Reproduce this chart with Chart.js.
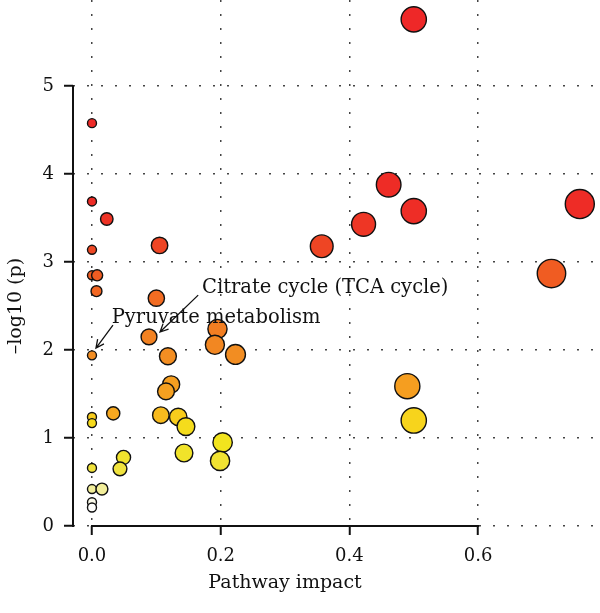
<!DOCTYPE html>
<html>
<head>
<meta charset="utf-8">
<script src="https://cdn.jsdelivr.net/npm/chart.js@4.4.1/dist/chart.umd.min.js"></script>
<style>
  body { margin: 0; background: #fff; }
</style>
</head>
<body>
<canvas id="chart" width="600" height="613"></canvas>
<script>
// pathway impact (x) and -log10(p) (y)
const impact = [0, 0, 0.023, 0.105, 0, 0, 0.008, 0.007, 0.1, 0.5, 0.461, 0.5, 0.422, 0.357,
  0.758, 0.714, 0, 0.0886, 0.195, 0.191, 0.223, 0.118, 0.123, 0.115, 0, 0, 0.033, 0.107,
  0.134, 0.146, 0.143, 0.203, 0.199, 0.049, 0.0435, 0, 0, 0.0155, 0, 0, 0.49, 0.5];
const logP = [4.58, 3.69, 3.49, 3.19, 3.14, 2.85, 2.85, 2.67, 2.59, 5.76, 3.88, 3.58, 3.43, 3.18,
  3.66, 2.87, 1.94, 2.15, 2.24, 2.06, 1.95, 1.93, 1.61, 1.53, 1.24, 1.17, 1.28, 1.26,
  1.24, 1.13, 0.83, 0.95, 0.74, 0.78, 0.65, 0.66, 0.42, 0.42, 0.27, 0.21, 1.59, 1.20];

const xTicks = [0, 0.2, 0.4, 0.6];
const yTicks = [0, 1, 2, 3, 4, 5];

// annotations: text, where the text starts, and the arrow
const noteText = ['Citrate cycle (TCA cycle)', 'Pyruvate metabolism'];
const noteAt = [[0.171, 2.65], [0.0306, 2.31]];
const arrowFrom = [[0.165, 2.625], [0.0326, 2.284]];
const arrowTo = [[0.1057, 2.205], [0.0062, 2.023]];

const SERIF = '"DejaVu Serif", "Liberation Serif", serif';

// heat-like colour ramp keyed on -log10(p)
const ramp = [
  [0.2, [255, 255, 255]], [0.3, [248, 246, 224]], [0.42, [242, 238, 154]], [0.66, [240, 226, 58]],
  [0.95, [242, 228, 30]], [1.17, [246, 218, 28]], [1.24, [248, 204, 28]], [1.28, [246, 168, 32]],
  [1.6, [245, 158, 32]], [2.0, [242, 138, 34]], [2.6, [242, 107, 34]], [2.9, [240, 90, 34]],
  [3.2, [238, 68, 36]], [3.6, [238, 44, 38]], [6, [238, 40, 40]]
];
function heat(v) {
  if (v <= ramp[0][0]) return 'rgb(' + ramp[0][1].join(',') + ')';
  for (let i = 1; i < ramp.length; i++) {
    if (v <= ramp[i][0]) {
      const [a, ca] = ramp[i - 1], [b, cb] = ramp[i];
      const t = (v - a) / (b - a);
      return 'rgb(' + ca.map((c, k) => Math.round(c + (cb[k] - c) * t)).join(',') + ')';
    }
  }
  return 'rgb(' + ramp[ramp.length - 1][1].join(',') + ')';
}

function arrow(ctx, x1, y1, x2, y2) {
  const ang = Math.atan2(y2 - y1, x2 - x1);
  const len = 9, spread = 0.45;
  ctx.beginPath();
  ctx.moveTo(x1, y1);
  ctx.lineTo(x2, y2);
  ctx.moveTo(x2 - len * Math.cos(ang - spread), y2 - len * Math.sin(ang - spread));
  ctx.lineTo(x2, y2);
  ctx.lineTo(x2 - len * Math.cos(ang + spread), y2 - len * Math.sin(ang + spread));
  ctx.stroke();
}

const rStyle = {
  id: 'rStyle',
  afterDatasetsDraw(chart) {
    const { ctx, chartArea, scales: { x, y } } = chart;
    ctx.save();
    ctx.strokeStyle = '#111';
    ctx.lineWidth = 2;
    ctx.beginPath();
    ctx.moveTo(chartArea.left, y.getPixelForValue(yTicks[0]) + 1);
    ctx.lineTo(chartArea.left, y.getPixelForValue(yTicks[yTicks.length - 1]) - 1);
    ctx.moveTo(x.getPixelForValue(xTicks[0]) - 1, chartArea.bottom);
    ctx.lineTo(x.getPixelForValue(xTicks[xTicks.length - 1]) + 1, chartArea.bottom);
    ctx.stroke();

    // annotations
    ctx.fillStyle = '#111';
    ctx.font = '19.5px ' + SERIF;
    ctx.textAlign = 'left';
    ctx.textBaseline = 'alphabetic';
    ctx.lineWidth = 1.3;
    noteText.forEach((t, i) => {
      ctx.fillText(t, x.getPixelForValue(noteAt[i][0]), y.getPixelForValue(noteAt[i][1]));
      arrow(ctx,
        x.getPixelForValue(arrowFrom[i][0]), y.getPixelForValue(arrowFrom[i][1]),
        x.getPixelForValue(arrowTo[i][0]), y.getPixelForValue(arrowTo[i][1]));
    });

    // axis titles, centred on the drawn axis lines
    ctx.textAlign = 'center';
    ctx.font = '19px ' + SERIF;
    const xMid = (x.getPixelForValue(xTicks[0]) + x.getPixelForValue(xTicks[xTicks.length - 1])) / 2;
    ctx.fillText('Pathway impact', xMid, 588);
    const yMid = (y.getPixelForValue(yTicks[0]) + y.getPixelForValue(yTicks[yTicks.length - 1])) / 2;
    ctx.translate(21, yMid);
    ctx.rotate(-Math.PI / 2);
    ctx.fillText('\u2013log10 (p)', 0, 0);
    ctx.restore();
  }
};

const gridBase = {
  color: '#444',
  lineWidth: 1.5,
  drawTicks: true,
  tickLength: 9,
  tickWidth: 2,
  tickColor: '#111',
  tickBorderDash: []
};

new Chart(document.getElementById('chart'), {
  type: 'scatter',
  data: {
    datasets: [{
      data: impact.map((v, i) => ({ x: v, y: logP[i] })),
      backgroundColor: c => heat(c.raw.y),
      borderColor: '#111',
      borderWidth: 1.4,
      pointRadius: c => 4.5 + 11.5 * Math.sqrt(c.raw.x),
      pointHoverRadius: c => 4.5 + 11.5 * Math.sqrt(c.raw.x),
      clip: false
    }]
  },
  options: {
    responsive: false,
    animation: false,
    devicePixelRatio: 1,
    layout: { padding: 0, autoPadding: false },
    plugins: { legend: { display: false }, tooltip: { enabled: false } },
    scales: {
      x: {
        type: 'linear',
        min: -0.0295,
        max: 0.7894,
        afterBuildTicks: s => { s.ticks = xTicks.map(v => ({ value: v })); },
        afterFit: s => { s.height = 87; s.paddingLeft = 0; s.paddingRight = 0; },
        border: { display: false, dash: [2, 12] },
        grid: gridBase,
        ticks: {
          color: '#111',
          padding: 11,
          maxRotation: 0,
          font: { family: SERIF, size: 18 },
          callback: v => Number(v).toFixed(1)
        }
      },
      y: {
        type: 'linear',
        min: 0,
        max: 5.98,
        afterBuildTicks: s => { s.ticks = yTicks.map(v => ({ value: v })); },
        afterFit: s => { s.width = 73; s.paddingTop = 0; s.paddingBottom = 0; },
        border: { display: false, dash: [2, 12] },
        grid: gridBase,
        ticks: {
          color: '#111',
          padding: 10,
          font: { family: SERIF, size: 18 },
          callback: v => String(v)
        }
      }
    }
  },
  plugins: [rStyle]
});
</script>
</body>
</html>
